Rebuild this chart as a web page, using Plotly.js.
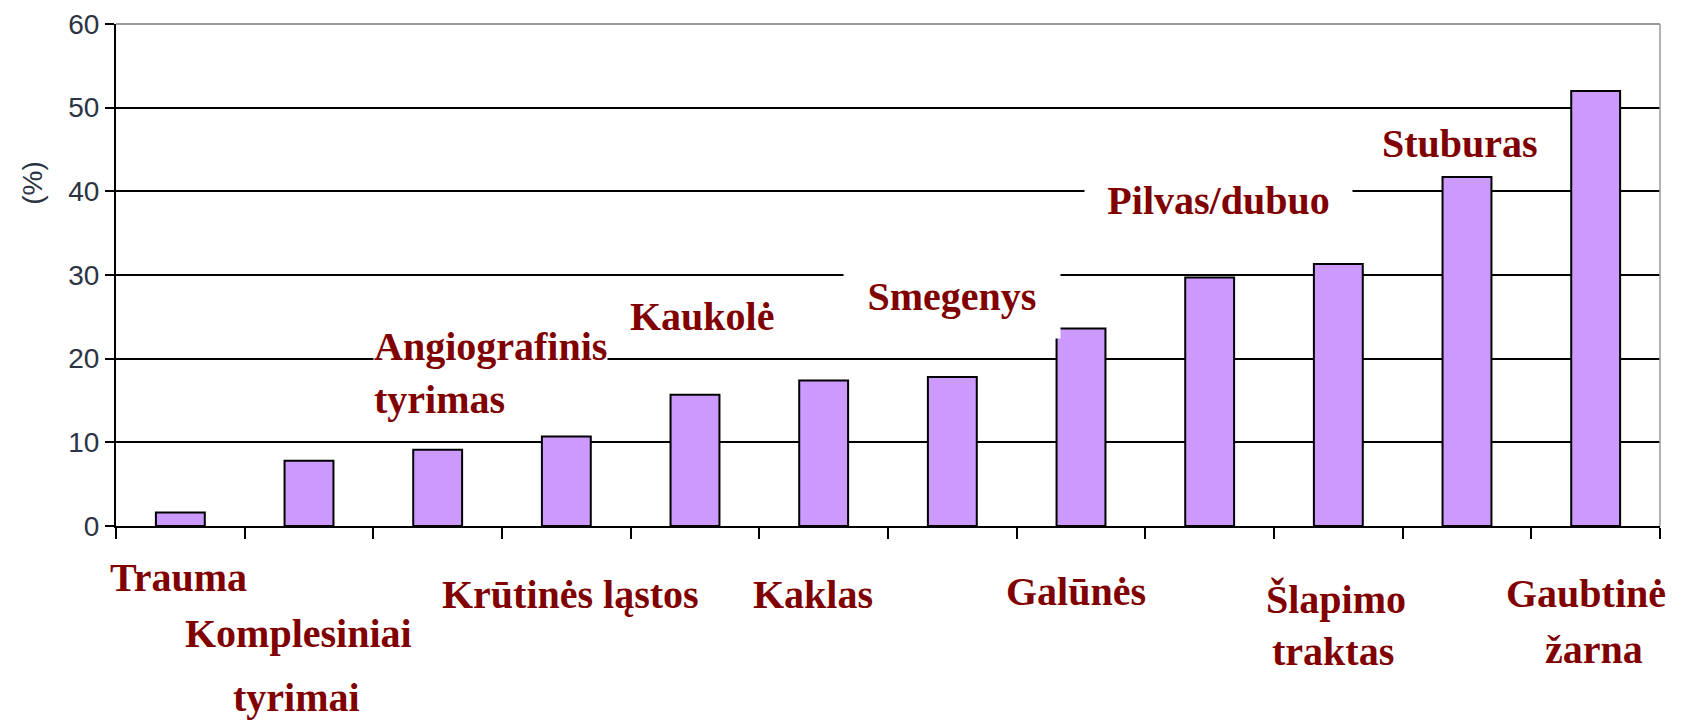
<!DOCTYPE html>
<html>
<head>
<meta charset="utf-8">
<script src="https://cdn.plot.ly/plotly-3.0.1.min.js"></script>
<style>
  html, body { margin: 0; padding: 0; background: #ffffff; }
  #chart { width: 1694px; height: 724px; }
</style>
</head>
<body>
<div id="chart"></div>
<script>
// ---- data ----
const categories = ['Trauma', 'Komplesiniai tyrimai', 'Angiografinis tyrimas', 'Krūtinės ląstos',
  'Kaukolė', 'Kaklas', 'Smegenys', 'Galūnės', 'Pilvas/dubuo', 'Šlapimo traktas', 'Stuburas', 'Gaubtinė žarna'];
const values = [1.6, 7.8, 9.1, 10.7, 15.7, 17.4, 17.8, 23.6, 29.7, 31.3, 41.7, 52.0];
const labelLines = [['Trauma'], ['Komplesiniai', 'tyrimai'], ['Angiografinis', 'tyrimas'], ['Krūtinės ląstos'],
  ['Kaukolė'], ['Kaklas'], ['Smegenys'], ['Galūnės'], ['Pilvas/dubuo'], ['Šlapimo', 'traktas'], ['Stuburas'], ['Gaubtinė', 'žarna']];
const yTickVals = [0, 10, 20, 30, 40, 50, 60];
const yTickText = ['0', '10', '20', '30', '40', '50', '60'];
const yTitle = '(%)';

// ---- label placement (pixel offsets, layout only) ----
const labelDx = [[-2], [-11, -13], [-65, -65], [4], [7], [-11], [0], [-5], [9], [-2, -5], [-7], [-10, -2]];
const labelDy = [[-51], [-107, -171], [180, 127], [-68], [210], [-68], [230], [-65], [326], [-73, -125], [383], [-67, -123]];
const labelAnchor = ['center', 'center', 'left', 'center', 'center', 'center', 'center', 'center', 'center', 'center', 'center', 'center'];
const labelBox = { 2: {}, 6: { width: 216, height: 84 }, 8: { width: 267, height: 60 } };

const labelFont = { family: 'Liberation Serif, Times New Roman, serif', size: 40, color: '#800000', weight: 'bold' };

const annotations = [];
labelLines.forEach((lines, i) => {
  lines.forEach((line, j) => {
    const a = {
      x: categories[i], xref: 'x',
      y: 0, yref: 'paper',
      xanchor: labelAnchor[i], yanchor: 'middle',
      xshift: labelDx[i][j], yshift: labelDy[i][j],
      text: '<b>' + line + '</b>',
      showarrow: false,
      font: labelFont,
      borderpad: 0
    };
    if (labelBox[i] && j === 0) {
      a.bgcolor = '#ffffff';
      if (labelBox[i].width) { a.width = labelBox[i].width; a.height = labelBox[i].height; }
    }
    annotations.push(a);
  });
});
annotations.push({
  x: -0.054, xref: 'paper', y: 0.683, yref: 'paper',
  xanchor: 'center', yanchor: 'middle',
  text: yTitle, textangle: -90, showarrow: false,
  font: { family: 'Liberation Sans, Arial, sans-serif', size: 28, color: '#2b3344' }
});

const trace = {
  type: 'bar',
  x: categories,
  y: values,
  width: 0.38,
  marker: { color: '#cc99ff', line: { color: '#000000', width: 2 } },
  hoverinfo: 'skip'
};

const layout = {
  width: 1694, height: 724,
  margin: { l: 116, r: 34, t: 24, b: 198, pad: 0 },
  paper_bgcolor: '#ffffff', plot_bgcolor: '#ffffff',
  showlegend: false,
  xaxis: {
    type: 'category',
    range: [-0.5, 11.5],
    showticklabels: false,
    ticks: 'outside', tickson: 'boundaries', ticklen: 11, tickwidth: 2, tickcolor: '#000000',
    showline: true, linecolor: '#000000', linewidth: 2,
    showgrid: false, zeroline: false, fixedrange: true
  },
  yaxis: {
    range: [0, 60],
    tickvals: yTickVals, ticktext: yTickText,
    ticks: 'outside', ticklen: 9, tickwidth: 2, tickcolor: '#000000',
    showline: true, linecolor: '#000000', linewidth: 2,
    showgrid: true, gridcolor: '#000000', gridwidth: 2,
    zeroline: false,
    tickfont: { family: 'Liberation Sans, Arial, sans-serif', size: 28, color: '#2b3344' },
    fixedrange: true
  },
  shapes: [
    { type: 'line', xref: 'paper', yref: 'paper', x0: 0, x1: 1, y0: 1, y1: 1, line: { color: '#9a9a9a', width: 2 }, layer: 'above' },
    { type: 'line', xref: 'paper', yref: 'paper', x0: 1, x1: 1, y0: 0, y1: 1, line: { color: '#9a9a9a', width: 1.5 }, layer: 'above' }
  ],
  annotations: annotations
};

Plotly.newPlot('chart', [trace], layout, { displayModeBar: false, staticPlot: true });
</script>
</body>
</html>
